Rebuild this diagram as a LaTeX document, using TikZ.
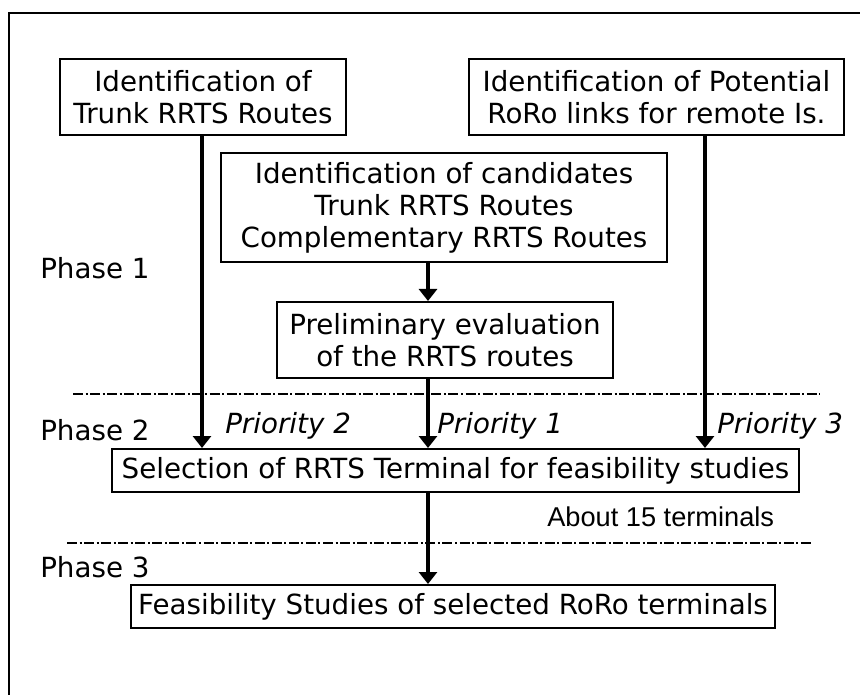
\documentclass[tikz,border=0pt]{standalone}
\usepackage{fontspec}
\setmainfont{DejaVu Sans}
\newfontfamily\arialfont{Liberation Sans}
\usetikzlibrary{arrows.meta}
\begin{document}
\begin{tikzpicture}[x=0.75pt,y=-0.75pt,
  every node/.style={font=\fontsize{20.8pt}{24pt}\selectfont},
  stepbox/.style={draw,line width=1.5pt,inner sep=0pt,align=center},
  arr/.style={line width=3pt,-{Triangle[width=13.5pt,length=9pt]}},
  sep/.style={line width=1.2pt,dash pattern=on 7.5pt off 1.9pt on 1.5pt off 1.9pt},
  lab/.style={anchor=base west,inner sep=0pt},
  pri/.style={anchor=base west,inner sep=0pt,font=\fontsize{20.8pt}{24pt}\selectfont\itshape}]
\useasboundingbox (0,0) rectangle (860,695);
\fill[white] (0,0) rectangle (860,695);
\draw[line width=1pt] (9,695) -- (9,13) -- (860,13);
% boxes
\node[stepbox,minimum width=286*0.75pt,minimum height=76*0.75pt] (b1) at (203,97) {Identification of\\Trunk RRTS Routes};
\node[stepbox,minimum width=375*0.75pt,minimum height=76*0.75pt] (b2) at (656.5,97) {Identification of Potential\\RoRo links for remote Is.};
\node[stepbox,minimum width=446*0.75pt,minimum height=109*0.75pt] (b3) at (444,207.5) {Identification of candidates\\Trunk RRTS Routes\\Complementary RRTS Routes};
\node[stepbox,minimum width=336*0.75pt,minimum height=76*0.75pt] (b4) at (445,340) {Preliminary evaluation\\of the RRTS routes};
\node[stepbox,minimum width=687*0.75pt,minimum height=43*0.75pt] (b5) at (455.5,470.5) {Selection of RRTS Terminal for feasibility studies};
\node[stepbox,minimum width=644*0.75pt,minimum height=43*0.75pt] (b6) at (453,606.5) {Feasibility Studies of selected RoRo terminals};
% separators
\coordinate (s1a) at (73,394);
\coordinate (s1b) at (820,394);
\coordinate (s2a) at (67,543);
\coordinate (s2b) at (813,543);
\draw[sep] (s1a) -- (s1b);
\draw[sep] (s2a) -- (s2b);
% arrows
\coordinate (cl) at (202,0);
\coordinate (cm) at (428,0);
\coordinate (cr) at (705,0);
\draw[arr] (cl |- b1.south) -- (cl |- b5.north);
\draw[arr] (cr |- b2.south) -- (cr |- b5.north);
\draw[arr] (cm |- b3.south) -- (cm |- b4.north);
\draw[arr] (cm |- b4.south) -- (cm |- b5.north);
\draw[arr] (cm |- b5.south) -- (cm |- b6.north);
% labels
\node[lab] (ph1) at (40,278) {Phase 1};
\node[lab] (ph2) at (40,440) {Phase 2};
\node[lab] (ph3) at (40,577) {Phase 3};
\node[pri] (p2) at (225,433) {Priority 2};
\node[pri] (p1) at (437,433) {Priority 1};
\node[pri] (p3) at (717,433) {Priority 3};
\node[lab,font=\fontsize{20.4pt}{24pt}\arialfont] (ab) at (547,526) {About 15 terminals};
\end{tikzpicture}
\end{document}
